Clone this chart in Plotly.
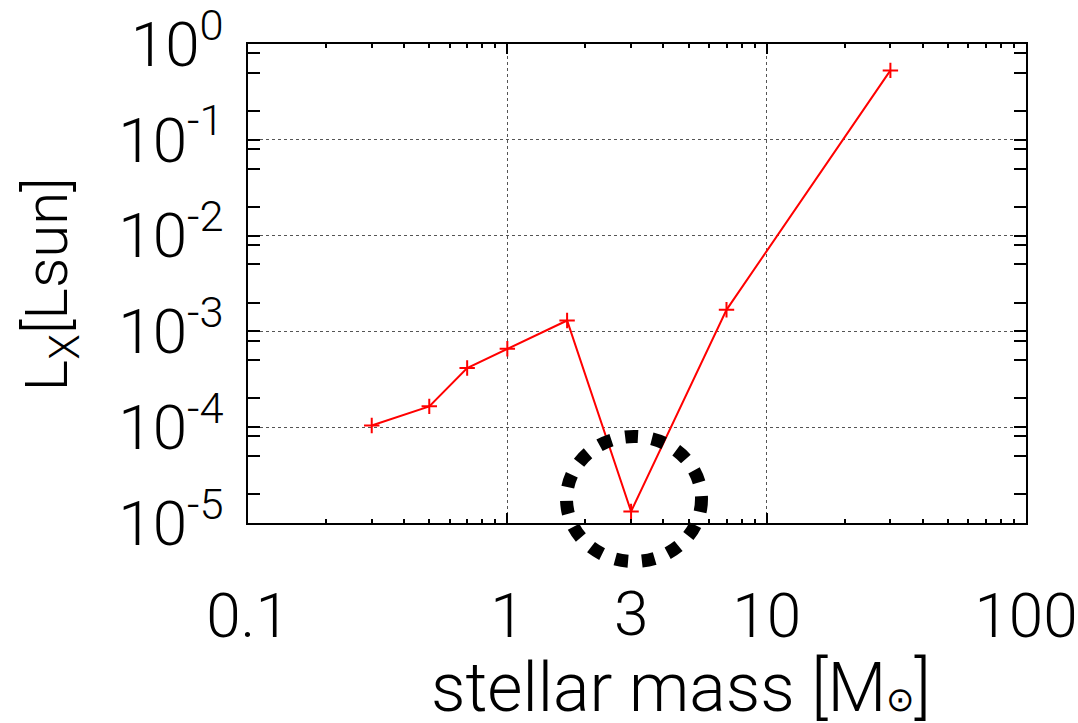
import plotly.graph_objects as go

# ---- data ----
stellar_mass = [0.3, 0.5, 0.7, 1.0, 1.7, 3.0, 7.0, 30.0]
lx_lsun = [1.04e-4, 1.65e-4, 4.15e-4, 6.6e-4, 1.30e-3, 1.32e-5, 1.68e-3, 0.53]

x_major = [0.1, 1, 10, 100]
x_major_text = ["0.1", "1", "10", "100"]
x_extra = [3]
x_extra_text = ["3"]
y_major = [1e-5, 1e-4, 1e-3, 1e-2, 1e-1, 1e0]
y_major_text = ["10<sup>-5</sup>", "10<sup>-4</sup>", "10<sup>-3</sup>",
                "10<sup>-2</sup>", "10<sup>-1</sup>", "10<sup>0</sup>"]
x_minor = [m * d for d in [0.1, 1, 10] for m in range(2, 10)]
y_minor = [m * d for d in [1e-5, 1e-4, 1e-3, 1e-2, 1e-1] for m in (2, 5, 8)]

FONT = "Roboto, Liberation Sans, Arial, sans-serif"
W = 300

fig = go.Figure()
fig.add_trace(go.Scatter(
    x=stellar_mass, y=lx_lsun, mode="lines+markers",
    line=dict(color="#ff0000", width=2),
    marker=dict(symbol="cross-thin", size=11, line=dict(color="#ff0000", width=2)),
    showlegend=False, cliponaxis=False,
))
# empty trace so the overlaid label axis is drawn
fig.add_trace(go.Scatter(x=x_extra, y=[None], xaxis="x2", yaxis="y",
                         mode="markers", showlegend=False, hoverinfo="skip"))

axis_common = dict(
    showline=True, linecolor="black", linewidth=2, mirror="allticks",
    ticks="inside", tickcolor="black", tickwidth=1.5,
    zeroline=False, automargin=False, ticklabeloverflow="allow",
    griddash="dot", gridcolor="#555555", gridwidth=1,
    tickfont=dict(family=FONT, size=62, color="black", weight=W),
)

fig.update_layout(
    width=1078, height=723,
    margin=dict(l=248, r=52, t=44, b=200),
    paper_bgcolor="white", plot_bgcolor="white",
    xaxis=dict(type="log", range=[-1, 2], tickmode="array",
               tickvals=x_major, ticktext=x_major_text, ticklen=10,
               showgrid=True, ticklabelstandoff=38,
               minor=dict(tickmode="array", tickvals=x_minor, ticks="inside",
                          ticklen=4, tickcolor="black", tickwidth=1.5, showgrid=False),
               **axis_common),
    xaxis2=dict(type="log", range=[-1, 2], overlaying="x", anchor="y", side="bottom",
                tickmode="array", tickvals=x_extra, ticktext=x_extra_text,
                ticks="", showgrid=False, showline=False, zeroline=False,
                automargin=False, ticklabelstandoff=49, ticklabeloverflow="allow",
                tickfont=dict(family=FONT, size=62, color="black", weight=W)),
    yaxis=dict(type="log", range=[-5, 0], tickmode="array",
               tickvals=y_major, ticktext=y_major_text, ticklen=12,
               showgrid=True, ticklabelstandoff=10,
               minor=dict(tickmode="array", tickvals=y_minor, ticks="inside",
                          ticklen=6, tickcolor="black", tickwidth=1.5, showgrid=False),
               **axis_common),
)

# axis titles
fig.add_annotation(text="stellar mass [M<span style='font-size:34px'>⊙</span>]",
                   xref="paper", yref="paper",
                   x=0.5566, y=-0.345, xanchor="center", yanchor="middle",
                   showarrow=False, font=dict(family=FONT, size=68, color="black", weight=W))
fig.add_annotation(text="L<sub>X</sub>[Lsun]", xref="paper", yref="paper",
                   x=-0.2545, y=0.498, xanchor="center", yanchor="middle", textangle=-90,
                   showarrow=False, font=dict(family=FONT, size=60, color="black", weight=W))

# dashed highlight circle around the 3 Msun point
fig.add_shape(type="circle", xref="paper", yref="paper",
              x0=0.4094, x1=0.5829, y0=-0.0804, y1=0.1806,
              line=dict(color="black", width=13, dash="13px,14px"))

fig.write_html("out.html")
